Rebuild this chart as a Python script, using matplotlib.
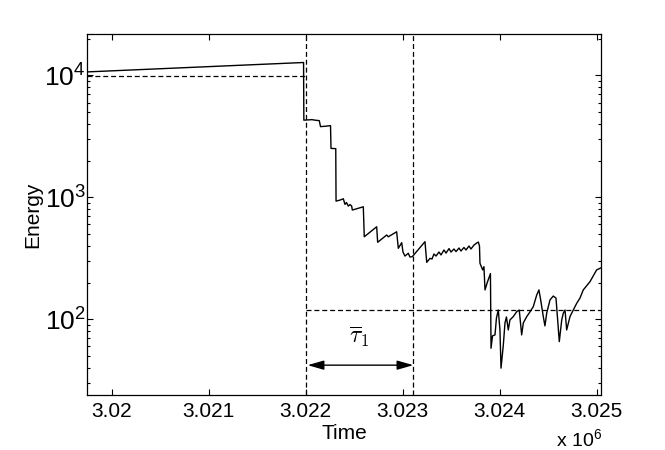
import numpy as np
import matplotlib
matplotlib.use('Agg')
import matplotlib.pyplot as plt
from matplotlib.ticker import FixedLocator, FuncFormatter, LogLocator

plt.rcParams['font.family'] = ['Liberation Sans', 'DejaVu Sans']
plt.rcParams['mathtext.fontset'] = 'custom'
plt.rcParams['mathtext.rm'] = 'Liberation Sans'
plt.rcParams['mathtext.it'] = 'Liberation Sans:italic'

#----------------- Data ------------
time = [3019745, 3021978, 3021981, 3022065, 3022096, 3022140, 3022153, 3022209,
        3022256, 3022261, 3022310, 3022313, 3022354, 3022388, 3022405, 3022421,
        3022439, 3022457, 3022474, 3022481, 3022594, 3022604, 3022732, 3022742,
        3022835, 3022852, 3022938, 3022955, 3022990, 3023003, 3023024, 3023058,
        3023075, 3023099, 3023230, 3023248, 3023282, 3023302, 3023323, 3023344,
        3023374, 3023395, 3023426, 3023447, 3023478, 3023498, 3023529, 3023550,
        3023581, 3023601, 3023632, 3023653, 3023684, 3023704, 3023735, 3023763,
        3023780, 3023792, 3023797, 3023825, 3023838, 3023849, 3023874, 3023905,
        3023911, 3023926, 3023952, 3023967, 3023986, 3024003, 3024014, 3024037,
        3024055, 3024070, 3024089, 3024106, 3024140, 3024176, 3024202, 3024227,
        3024244, 3024279, 3024313, 3024347, 3024382, 3024405, 3024423, 3024450,
        3024467, 3024485, 3024519, 3024553, 3024581, 3024598, 3024615, 3024640,
        3024656, 3024674, 3024691, 3024725, 3024759, 3024794, 3024828, 3024862,
        3024931, 3025000, 3025040]
energy = [10700, 12780, 4300, 4342, 4300, 4261, 3804, 3840,
          3877, 2521, 2512, 932, 950, 974, 876, 907,
          848, 873, 848, 787, 837, 475, 574, 428,
          491, 475, 522, 382, 425, 356, 330, 348,
          324, 326, 433, 293, 316, 312, 343, 330,
          356, 337, 370, 349, 380, 356, 377, 359,
          384, 363, 388, 370, 399, 377, 406, 422,
          430, 399, 288, 254, 270, 174, 202, 237,
          57.8, 73.0, 74.4, 102.5, 119, 81.7, 39.7, 60.4,
          93.3, 104.4, 81.7, 98.7, 105, 115.4, 119, 74.4,
          93.3, 105, 115, 127, 158, 174, 144, 105,
          88.2, 112, 144, 155, 149, 98.7, 65.5, 98.7,
          112, 119, 81.7, 105, 119, 135, 149, 174,
          203, 254, 263]

t_start = 3022000      # start of interval tau_1
t_end = 3023110        # end of interval tau_1
e_before = 9900        # mean energy level before
e_after = 119          # mean energy level after
e_arrow = 42
e_label = 72
xlim = (3019745, 3025045)
ylim = (23.9, 21900)
xticks = [3020000, 3021000, 3022000, 3023000, 3024000, 3025000]

#----------------- Plot ------------
figure = plt.figure(figsize=(6.65, 4.5), dpi=100)
ax = figure.add_axes([87/665, 1-395/450, (601-87)/665, (395-34)/450])

dash = (0, (4, 2.3))
ax.plot(time, energy, color='k', lw=1.0)
ax.plot([xlim[0], t_start], [e_before, e_before], color='k', lw=0.9, ls=dash)
ax.plot([t_start, xlim[1]], [e_after, e_after], color='k', lw=0.9, ls=dash)
ax.axvline(t_start, color='k', lw=0.9, ls=dash)
ax.axvline(t_end, color='k', lw=0.9, ls=dash)

ax.annotate('', xy=(t_end, e_arrow), xytext=(t_start + 20, e_arrow),
            arrowprops=dict(arrowstyle='<|-|>,head_length=0.7,head_width=0.2',
                            color='k', lw=1.0, shrinkA=0, shrinkB=0,
                            mutation_scale=14))
ax.text((t_start + t_end) / 2, e_label, r'$\overline{\tau}_1$', ha='center',
        va='center', fontsize=17, math_fontfamily='cm')

ax.set_yscale('log')
ax.set_xlim(*xlim)
ax.set_ylim(*ylim)
ax.xaxis.set_major_locator(FixedLocator(xticks))
ax.xaxis.set_major_formatter(FuncFormatter(lambda v, p: '%g' % (v / 1e6)))
ax.yaxis.set_major_locator(LogLocator(base=10, numticks=10))
ax.yaxis.set_minor_locator(LogLocator(base=10, subs=np.arange(2, 10), numticks=20))
ax.yaxis.set_minor_formatter(plt.NullFormatter())

ax.tick_params(axis='both', which='both', direction='in', top=True, right=True)
ax.tick_params(axis='both', which='major', length=4.3, width=0.8)
ax.tick_params(axis='both', which='minor', length=2.0, width=0.8)
ax.tick_params(axis='x', labelsize=15, pad=5)
ax.tick_params(axis='y', labelsize=19, pad=1)
for sp in ax.spines.values():
    sp.set_linewidth(0.9)

ax.set_xlabel('Time', fontsize=15)
ax.set_ylabel('Energy', fontsize=15)
ax.xaxis.set_label_coords(0.5, -0.08)
ax.yaxis.set_label_coords(-0.088, 0.5)
figure.text(602/665, 1-446/450, r'x 10$^6$', ha='right', va='baseline', fontsize=14)

figure.savefig('out.png', dpi=100)
